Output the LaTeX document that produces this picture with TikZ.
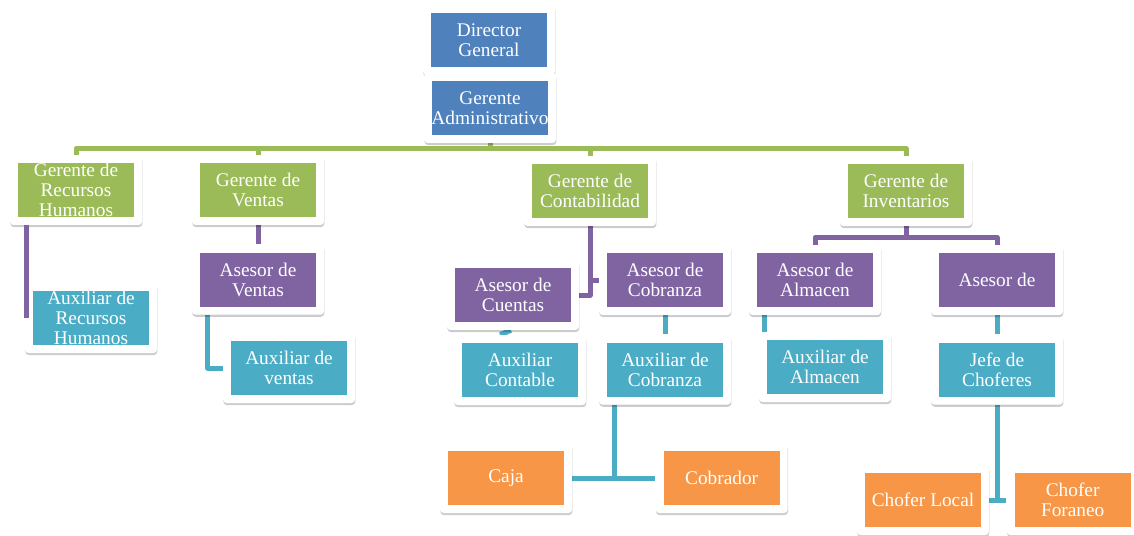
\documentclass[tikz,border=0pt]{standalone}
\usepackage{fontspec}
\setmainfont{Liberation Serif}
\usetikzlibrary{positioning, calc, backgrounds, shadows}
\definecolor{ofblue}{HTML}{4F81BD}
\definecolor{ofgreen}{HTML}{9BBB59}
\definecolor{ofpurple}{HTML}{8064A2}
\definecolor{ofaqua}{HTML}{4BACC6}
\definecolor{oforange}{HTML}{F79646}
\tikzset{
  obox/.style={rectangle, rounded corners=2pt, fill=white, draw=none,
               minimum width=2.64cm, minimum height=1.4cm, inner sep=1pt,
               align=center, text=white, font=\fontsize{11}{11.5}\selectfont,
               drop shadow={shadow xshift=0.2pt, shadow yshift=-1.2pt,
                            fill=black, opacity=0.2},
               path picture={\fill[#1, sharp corners]
                 ([shift={(0.16cm,0.16cm)}]path picture bounding box.south west) rectangle
                 ([shift={(-0.16cm,-0.16cm)}]path picture bounding box.north east);}},
  obox/.default=ofblue,
  link/.style={line width=0.1cm, draw=#1, line join=round},
  link/.default=ofgreen,
}
\begin{document}
\begin{tikzpicture}[x=0.02cm, y=-0.02cm, node distance=0.38cm]
  \useasboundingbox (0,0) rectangle (1134,535);
  % TOP
  \node[obox=ofblue] (dir) at (489,40) {Director\\General};
  \node[obox=ofblue] (adm) at (490,108) {Gerente\\Administrativo};

  % GERENTES
  \node[obox=ofgreen] (grh) at (76,190) {Gerente de\\Recursos\\Humanos};
  \node[obox=ofgreen] (gven) at (258,190) {Gerente de\\Ventas};
  \node[obox=ofgreen] (gcon) at (590,191) {Gerente de\\Contabilidad};
  \node[obox=ofgreen] (ginv) at (906,191) {Gerente de\\Inventarios};

  % ASESORES
  \node[obox=ofpurple, below=of gven] (asven) {Asesor de\\Ventas};
  \node[obox=ofpurple] (ascue) at (513,295) {Asesor de\\Cuentas};
  \node[obox=ofpurple] (ascob) at (665,280) {Asesor de\\Cobranza};
  \node[obox=ofpurple] (asalm) at (815,280) {Asesor de\\Almacen};
  \node[obox=ofpurple] (asch) at (997,280) {Asesor de};

  % AUXILIARES
  \node[obox=ofaqua] (auxrh) at (91,318) {Auxiliar de\\Recursos\\Humanos};
  \node[obox=ofaqua] (auxven) at (289,368) {Auxiliar de\\ventas};
  \node[obox=ofaqua] (auxcon) at (520,370) {Auxiliar\\Contable};
  \node[obox=ofaqua, below=of ascob] (auxcob) {Auxiliar de\\Cobranza};
  \node[obox=ofaqua] (auxalm) at (825,367) {Auxiliar de\\Almacen};
  \node[obox=ofaqua, below=of asch] (jefe) {Jefe de\\Choferes};

  % BOTTOM
  \node[obox=oforange] (caja) at (506,478) {Caja};
  \node[obox=oforange, right=1.66cm of caja] (cobr) {Cobrador};
  \node[obox=oforange] (chloc) at (923,500) {Chofer Local};
  \node[obox=oforange, right=0.34cm of chloc] (chfor) {Chofer\\Foraneo};

  \coordinate (vendrop) at ([xshift=0.32cm]asven.south west);
  \coordinate (cobdrop) at ([xshift=0.32cm]auxcob.south west);
  \coordinate (almdrop) at ([xshift=0.32cm]asalm.south west);

  \begin{scope}[on background layer]
    % GREEN BAR
    \draw[link=ofgreen] (adm.south) -- ++(0,5) -| (grh.north);
    \draw[link=ofgreen] (adm.south) -- ++(0,5) -| (gven.north);
    \draw[link=ofgreen] (adm.south) -- ++(0,5) -| (gcon.north);
    \draw[link=ofgreen] (adm.south) -- ++(0,5) -| (ginv.north);
    % PURPLE
    \draw[link=ofpurple] (gven) -- (asven);
    \draw[link=ofpurple] (gcon.south) |- (ascob.west);
    \draw[link=ofpurple] (gcon.south) |- (ascue.east);
    \draw[link=ofpurple] (ginv.south) -- ++(0,11) -| (asalm.north);
    \draw[link=ofpurple] (ginv.south) -- ++(0,11) -| (asch.north);
    % AQUA
    \draw[link=ofaqua] (vendrop) |- (auxven.west);
    \draw[link=ofaqua] ([xshift=-0.04cm]ascue.south) -- ([xshift=-0.4cm]auxcon.north);
    \draw[link=ofaqua] (ascob) -- (auxcob);
    \draw[link=ofaqua] (cobdrop) |- (caja.east);
    \draw[link=ofaqua] (cobdrop) |- (cobr.west);
    \draw[link=ofaqua] (almdrop) -- (almdrop |- auxalm.north);
    \draw[link=ofaqua] (asch) -- (jefe);
    \draw[link=ofaqua] (jefe.south) |- (chloc.east);
    \draw[link=ofaqua] (jefe.south) |- (chfor.west);
  \end{scope}
  \draw[link=ofpurple] ([xshift=0.04cm]grh.south -| auxrh.west) -- ([xshift=0.04cm]auxrh.west);
\end{tikzpicture}
\end{document}
